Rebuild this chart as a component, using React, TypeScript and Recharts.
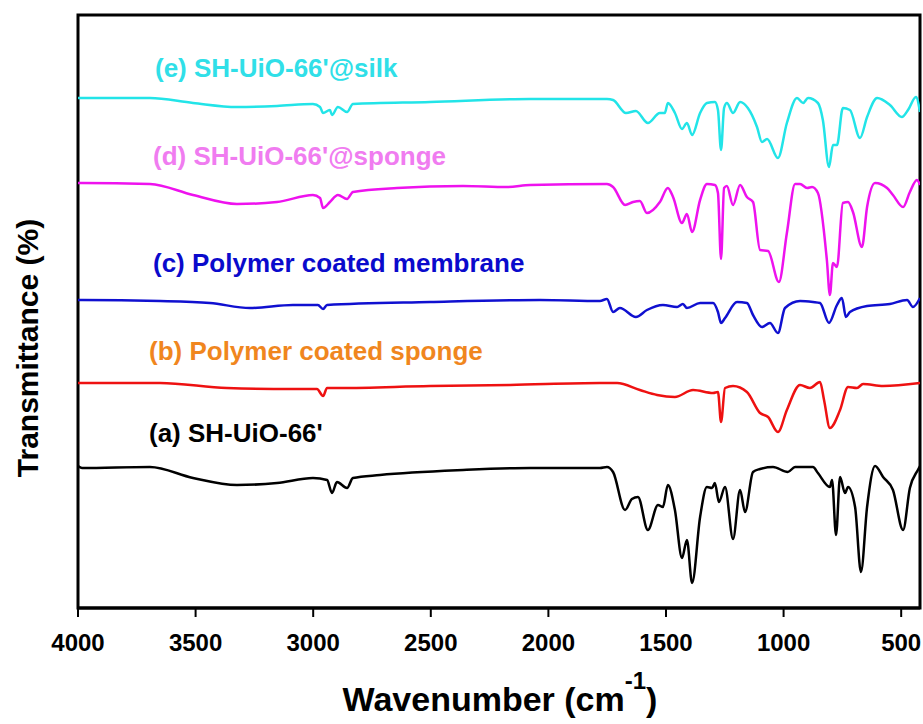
import { LineChart, Line, XAxis, YAxis, ReferenceArea } from 'recharts'

// FTIR spectra, [wavenumber cm-1, transmittance (a.u., stacked offsets)]
const specA = [
  [4000, 142], [3983, 140], [3694, 141], [3511, 130], [3324, 123], [3154, 125], [3001, 130], [2941, 128],
  [2920, 115], [2899, 126], [2856, 120], [2831, 130], [2716, 133], [2363, 138], [2078, 140], [1781, 140],
  [1751, 141], [1725, 136], [1674, 98], [1645, 109], [1619, 111], [1577, 78], [1534, 103], [1513, 101],
  [1492, 123], [1462, 98], [1432, 50], [1411, 68], [1389, 25], [1355, 91], [1326, 121], [1304, 120],
  [1292, 125], [1275, 106], [1249, 121], [1215, 69], [1185, 118], [1164, 96], [1130, 136], [1100, 139],
  [1045, 141], [982, 136], [951, 141], [875, 141], [854, 135], [803, 121], [794, 128], [777, 73],
  [760, 131], [739, 115], [726, 121], [696, 101], [671, 36], [645, 101], [611, 142], [577, 131],
  [535, 118], [492, 78], [463, 120], [429, 138], [420, 142],
]

const specB = [
  [4000, 225], [3983, 225], [3651, 225], [3367, 220], [3086, 219], [2984, 219], [2958, 212], [2941, 220],
  [2886, 220], [2503, 222], [2163, 223], [1781, 225], [1708, 225], [1611, 218], [1538, 213], [1462, 211],
  [1385, 218], [1300, 215], [1279, 216], [1266, 186], [1249, 220], [1215, 222], [1156, 216], [1100, 195],
  [1066, 191], [1024, 176], [986, 198], [930, 223], [888, 220], [845, 226], [828, 208], [803, 180],
  [760, 198], [726, 221], [688, 220], [662, 224], [577, 222], [420, 225],
]

const specC = [
  [4000, 308], [3983, 308], [3651, 307], [3439, 305], [3269, 300], [3086, 303], [2980, 303], [2958, 299],
  [2941, 303], [2503, 306], [2036, 308], [1781, 307], [1751, 309], [1725, 296], [1696, 300], [1628, 291],
  [1581, 298], [1513, 303], [1453, 301], [1428, 304], [1411, 300], [1355, 305], [1300, 305], [1279, 296],
  [1266, 285], [1249, 290], [1198, 306], [1156, 305], [1130, 293], [1092, 281], [1058, 285], [1024, 275],
  [994, 300], [930, 307], [875, 306], [845, 305], [807, 285], [773, 303], [752, 310], [735, 291],
  [718, 296], [645, 302], [548, 304], [475, 308], [450, 301], [420, 310],
]

const specD = [
  [4000, 425], [3983, 425], [3694, 424], [3511, 413], [3324, 404], [3154, 406], [3001, 413], [2971, 410],
  [2958, 400], [2929, 406], [2895, 413], [2856, 409], [2831, 416], [2644, 420], [2363, 422], [2176, 421],
  [2078, 423], [1751, 424], [1725, 421], [1674, 403], [1640, 406], [1611, 407], [1581, 395], [1526, 406],
  [1492, 420], [1470, 411], [1432, 385], [1411, 394], [1389, 376], [1355, 408], [1326, 424], [1292, 423],
  [1279, 415], [1266, 349], [1253, 420], [1241, 422], [1215, 403], [1185, 423], [1156, 411], [1130, 406],
  [1100, 358], [1066, 357], [1020, 326], [986, 375], [951, 424], [930, 424], [900, 420], [879, 421],
  [854, 415], [816, 348], [803, 313], [790, 345], [773, 341], [748, 405], [726, 406], [705, 396],
  [667, 361], [645, 401], [611, 425], [560, 420], [535, 413], [492, 401], [463, 416], [433, 428], [420, 423],
]

const specE = [
  [4000, 510], [3983, 510], [3694, 510], [3511, 505], [3324, 501], [3154, 502], [3001, 504], [2971, 501],
  [2958, 495], [2929, 498], [2920, 493], [2895, 501], [2856, 496], [2831, 504], [2503, 506], [2078, 509],
  [1751, 509], [1725, 508], [1670, 495], [1628, 497], [1577, 485], [1526, 495], [1505, 495], [1492, 505],
  [1462, 495], [1432, 479], [1411, 485], [1389, 473], [1355, 495], [1326, 505], [1292, 506], [1279, 498],
  [1266, 458], [1253, 500], [1241, 505], [1215, 495], [1185, 506], [1152, 500], [1113, 481], [1092, 466],
  [1070, 469], [1024, 450], [986, 485], [943, 510], [917, 505], [896, 510], [854, 505], [833, 488],
  [807, 441], [790, 463], [773, 463], [748, 500], [718, 498], [675, 470], [645, 491], [602, 510],
  [548, 503], [497, 491], [471, 498], [437, 511], [420, 496],
]

const xTicks = [4000, 3500, 3000, 2500, 2000, 1500, 1000, 500]

const series = [
  { key: 'a', name: "(a) SH-UiO-66'", spec: specA, line: '#000000', text: '#000000', lx: 149, base: 442 },
  { key: 'b', name: '(b) Polymer coated sponge', spec: specB, line: '#ee1111', text: '#f0861e', lx: 149, base: 360 },
  { key: 'c', name: '(c) Polymer coated membrane', spec: specC, line: '#1010d0', text: '#0a0acc', lx: 153, base: 272 },
  { key: 'd', name: "(d) SH-UiO-66'@sponge", spec: specD, line: '#ee12ee', text: '#f07cf0', lx: 153, base: 165 },
  { key: 'e', name: "(e) SH-UiO-66'@silk", spec: specE, line: '#22e4e8', text: '#30dfe8', lx: 155, base: 77 },
]

const FONT = '"Liberation Sans", Arial, Helvetica, sans-serif'

function XTitle() {
  return (
    <text x={500} y={711} textAnchor="middle" fontFamily={FONT} fontWeight="bold" fontSize={34} fill="#000">
      <tspan>Wavenumber (cm</tspan>
      <tspan fontSize={24} dy={-22}>-1</tspan>
      <tspan dy={22}>)</tspan>
    </text>
  )
}

export default function App() {
  return (
    <div style={{ position: 'absolute', left: 0, top: 0, width: 923, height: 724, background: '#fff', overflow: 'hidden' }}>
      <LineChart width={923} height={724} margin={{ top: 15, right: 3, left: 78, bottom: 0 }}>
        <XAxis
          type="number"
          dataKey="wn"
          domain={[420, 4000]}
          reversed
          allowDataOverflow
          ticks={xTicks}
          height={116}
          tickSize={9}
          tickMargin={17}
          tickLine={{ stroke: '#000', strokeWidth: 2 }}
          axisLine={{ stroke: '#000', strokeWidth: 3 }}
          tick={{ fontSize: 24, fontWeight: 'bold', fill: '#000', fontFamily: FONT }}
          label={<XTitle />}
        />
        <YAxis type="number" domain={[0, 593]} hide />
        <ReferenceArea x1={4000} x2={420} y1={0} y2={593} fill="none" stroke="#000" strokeWidth={3} />
        {series.map((s) => (
          <Line
            key={s.key}
            data={s.spec.map(([wn, t]) => ({ wn, t }))}
            dataKey="t"
            type="monotone"
            stroke={s.line}
            strokeWidth={2.5}
            dot={false}
            activeDot={false}
            isAnimationActive={false}
          />
        ))}
      </LineChart>
      <div
        style={{
          position: 'absolute', left: 28, top: 348, transform: 'translate(-50%, -50%) rotate(-90deg)',
          fontFamily: FONT, fontWeight: 'bold', fontSize: 30, lineHeight: '30px', color: '#000', whiteSpace: 'nowrap',
        }}
      >
        Transmittance (%)
      </div>
      {series.map((s) => (
        <div
          key={s.key}
          style={{
            position: 'absolute', left: s.lx, top: s.base - 22, fontFamily: FONT, fontWeight: 'bold',
            fontSize: 26, lineHeight: '26px', color: s.text, whiteSpace: 'nowrap',
          }}
        >
          {s.name}
        </div>
      ))}
    </div>
  )
}
